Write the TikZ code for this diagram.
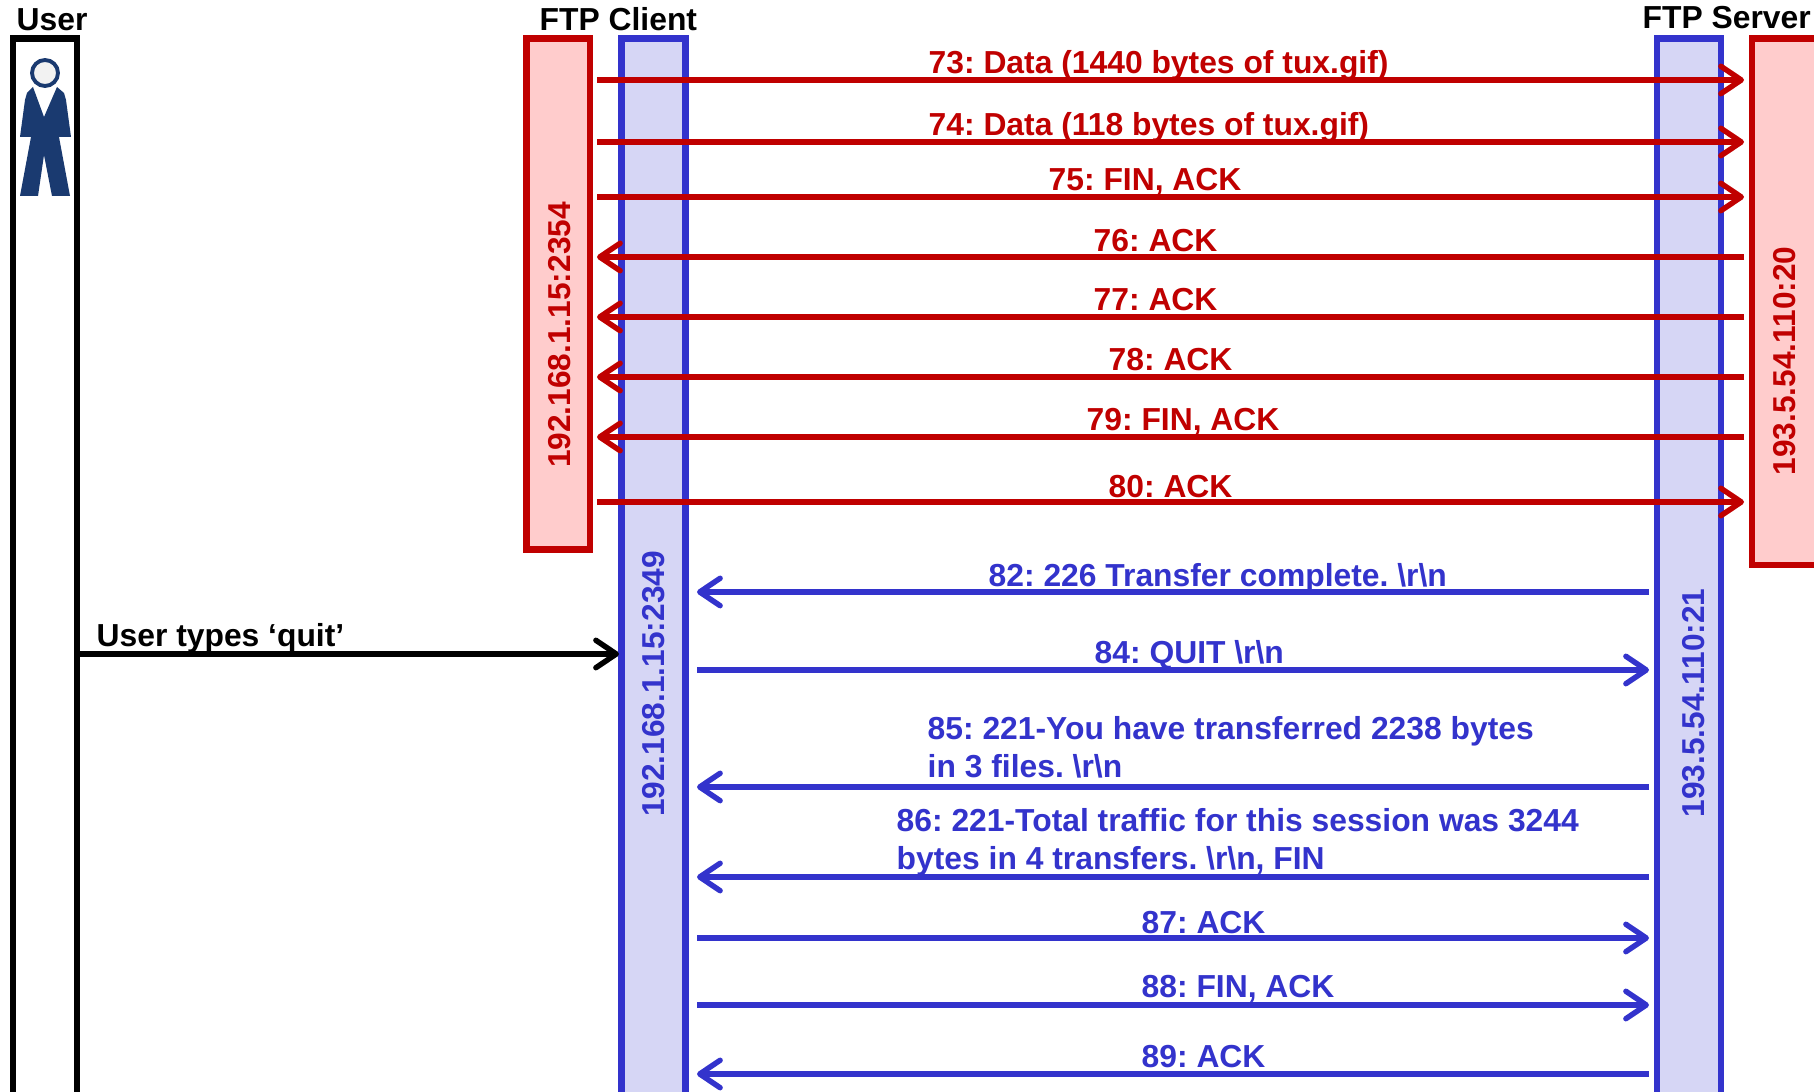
\documentclass[tikz,border=0pt]{standalone}
\usepackage{fontspec}
\setmainfont{Liberation Sans}
\usetikzlibrary{arrows.meta}
\definecolor{pktred}{HTML}{C00000}
\definecolor{pktpink}{HTML}{FFCCCC}
\definecolor{ctlblue}{HTML}{3333CC}
\definecolor{ctllight}{HTML}{D6D6F5}
\definecolor{suitblue}{HTML}{1A3A70}
\frenchspacing
\tikzset{
    msg/.style={line width=1.55pt,-{Straight Barb[length=5.8pt,width=7.8pt,round]}},
    lbl/.style={anchor=base west,inner sep=0pt,font=\bfseries\fontsize{9.05}{10.9}\selectfont},
    addr/.style={rotate=90,inner sep=0pt,font=\bfseries\fontsize{9.0}{10.9}\selectfont},
    lane/.style={line width=1.95pt},
}
\begin{document}
\begin{tikzpicture}[x=0.01cm,y=-0.01cm]
    \useasboundingbox (0,0) rectangle (1814,1092);
    \clip (0,0) rectangle (1814,1092);

    % Lifelines
    \draw[lane,black,fill=white] (13,38.5) rectangle (77,1120);
    \draw[lane,pktred,fill=pktpink] (526.5,38.5) rectangle (590,549.5);
    \draw[lane,ctlblue,fill=ctllight] (621.5,38.5) rectangle (685.5,1120);
    \draw[lane,ctlblue,fill=ctllight] (1657,38.5) rectangle (1721,1120);
    \draw[lane,pktred,fill=pktpink] (1752,38.5) rectangle (1840,565);

    % Headers
    \node[lbl] (user) at (16,30.5) {User};
    \node[lbl] (client) at (539,30.5) {FTP Client};
    \node[lbl] (server) at (1642,29) {FTP Server};

    % Addresses
    \node[addr,pktred] (dataclient) at (560,335) {192.168.1.15:2354};
    \node[addr,ctlblue] (ctlclient) at (654,684) {192.168.1.15:2349};
    \node[addr,ctlblue] (ctlserver) at (1694,703) {193.5.54.110:21};
    \node[addr,pktred] (dataserver) at (1785,361) {193.5.54.110:20};

    % Person
    \fill[suitblue] (33,87) -- (44,117) -- (57,87) -- (64,93) -- (66,100) -- (71,137) -- (59,137)
        -- (70,196) -- (52,196) -- (44,155) -- (38,196) -- (20,196) -- (31,137)
        -- (20,137) -- (25,100) -- (27,93) -- cycle;
    \draw[suitblue,line width=1.1pt,fill=black!5] (45,73) circle (13);

    % Data connection
    \foreach \n/\y/\s/\e in {r73/80/a/b, r74/142/a/b, r75/197/a/b, r76/257/b/a, r77/317/b/a, r78/377/b/a, r79/437/b/a, r80/502/a/b} {
        \coordinate (\n a) at (597,\y);
        \coordinate (\n b) at (1744,\y);
        \draw[msg,pktred] (\n\s) -- (\n\e);
    }
    \begin{scope}[every node/.style={lbl,pktred}]
        \node (l73) at (928,74) {73: Data (1440 bytes of tux.gif)};
        \node (l74) at (928,136) {74: Data (118 bytes of tux.gif)};
        \node (l75) at (1048,191) {75: FIN, ACK};
        \node (l76) at (1093,252) {76: ACK};
        \node (l77) at (1093,311) {77: ACK};
        \node (l78) at (1108,371) {78: ACK};
        \node (l79) at (1086,431) {79: FIN, ACK};
        \node (l80) at (1108,498) {80: ACK};
    \end{scope}

    % Control connection
    \foreach \n/\y/\s/\e in {b82/592/b/a, b84/670/a/b, b85/787/b/a, b86/877/b/a, b87/938/a/b, b88/1005/a/b, b89/1074/b/a} {
        \coordinate (\n a) at (697,\y);
        \coordinate (\n b) at (1649,\y);
        \draw[msg,ctlblue] (\n\s) -- (\n\e);
    }
    \begin{scope}[every node/.style={lbl,ctlblue}]
        \node (l82) at (988,587) {82: 226 Transfer complete. \textbackslash r\textbackslash n};
        \node (l84) at (1094,664) {84: QUIT \textbackslash r\textbackslash n};
        \node (l85a) at (927,740) {85: 221-You have transferred 2238 bytes};
        \node (l85b) at (927,778) {in 3 files. \textbackslash r\textbackslash n};
        \node (l86a) at (896,832) {86: 221-Total traffic for this session was 3244};
        \node (l86b) at (896,870) {bytes in 4 transfers. \textbackslash r\textbackslash n, FIN};
        \node (l87) at (1141,934) {87: ACK};
        \node (l88) at (1141,998) {88: FIN, ACK};
        \node (l89) at (1141,1068) {89: ACK};
    \end{scope}

    % User input
    \coordinate (quita) at (80,654);
    \coordinate (quitb) at (619,654);
    \draw[msg,black] (quita) -- (quitb);
    \node[lbl] (quit) at (96,647) {User types ‘quit’};
\end{tikzpicture}
\end{document}
